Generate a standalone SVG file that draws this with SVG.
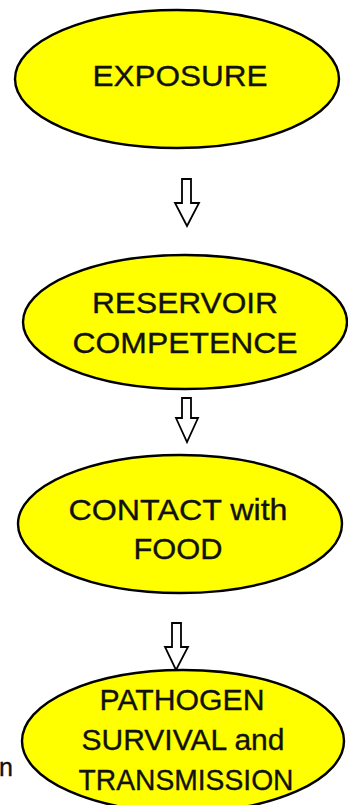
<svg xmlns="http://www.w3.org/2000/svg" width="348" height="805" viewBox="0 0 348 805">
  <style>
    .node ellipse { fill: #ffff00; stroke: #000; stroke-width: 2.4; }
    .node text, .side { font-family: "Liberation Sans", Arial, sans-serif; font-size: 30px; fill: #111; stroke: #111; stroke-width: 0.35; text-anchor: middle; }
    .arrow { fill: #fff; stroke: #000; stroke-width: 1.8; stroke-linejoin: miter; }
  </style>
  <rect width="348" height="805" fill="#fff"/>

  <g id="connectors">
    <path class="arrow" d="M182,179 H191 V203 H199 L187,226 L175,203 H182 Z"/>
    <path class="arrow" d="M182,398 H191 V418 H198 L187,442 L176,418 H182 Z"/>
    <path class="arrow" d="M172,623 H181 V647 H188 L176,670 L165,647 H172 Z"/>
  </g>

  <g id="exposure" class="node">
    <ellipse cx="177" cy="79" rx="162" ry="69"/>
    <text x="180" y="86" textLength="175" lengthAdjust="spacingAndGlyphs">EXPOSURE</text>
  </g>

  <g id="reservoir-competence" class="node">
    <ellipse cx="185" cy="322" rx="162" ry="67"/>
    <text x="185" y="313" textLength="186" lengthAdjust="spacingAndGlyphs">RESERVOIR</text>
    <text x="185" y="353" textLength="225" lengthAdjust="spacingAndGlyphs">COMPETENCE</text>
  </g>

  <g id="contact-with-food" class="node">
    <ellipse cx="180" cy="524" rx="162" ry="69"/>
    <text x="178" y="520" textLength="219" lengthAdjust="spacingAndGlyphs">CONTACT with</text>
    <text x="178" y="559" textLength="89" lengthAdjust="spacingAndGlyphs">FOOD</text>
  </g>

  <g id="pathogen-survival" class="node">
    <ellipse cx="183" cy="741" rx="161" ry="71"/>
    <text x="182" y="710" textLength="165" lengthAdjust="spacingAndGlyphs">PATHOGEN</text>
    <text x="183" y="750" textLength="203" lengthAdjust="spacingAndGlyphs">SURVIVAL and</text>
    <text x="186" y="790" textLength="215" lengthAdjust="spacingAndGlyphs">TRANSMISSION</text>
  </g>

  <text class="side" x="6" y="776" style="font-size:25px">n</text>
</svg>
